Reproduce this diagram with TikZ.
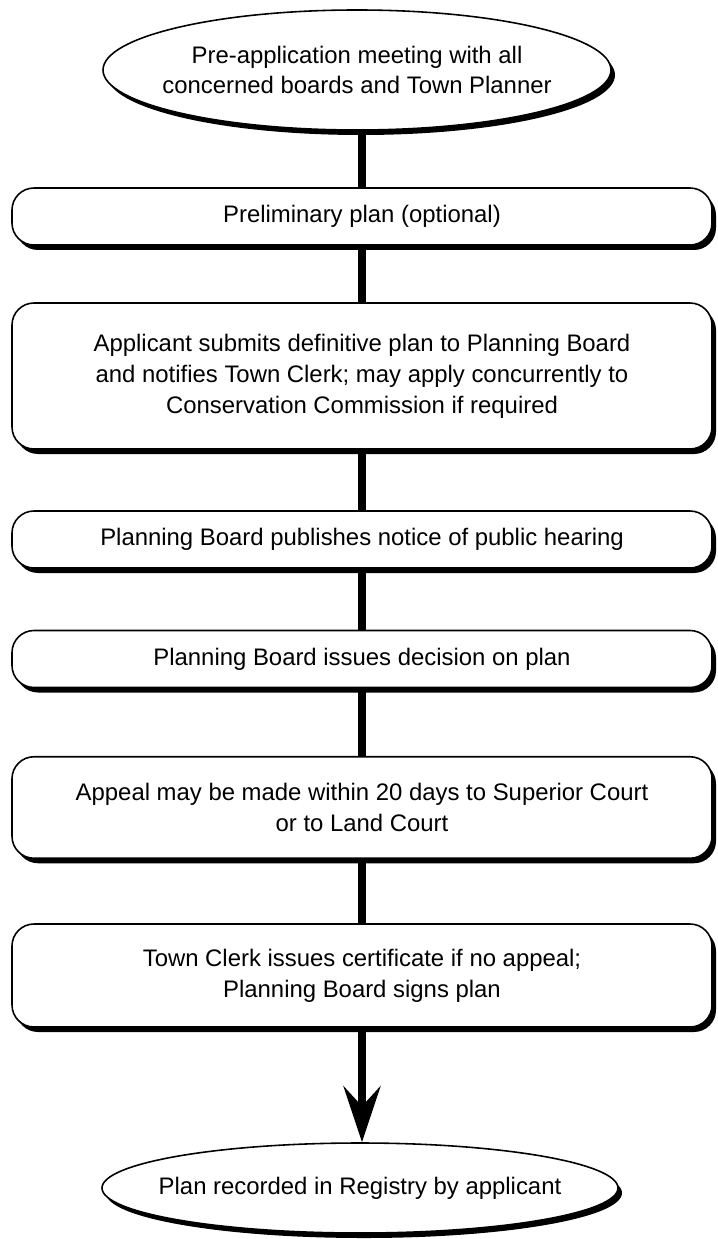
\documentclass[tikz,border=0pt]{standalone}
\usepackage{fontspec}
\setmainfont{Liberation Sans}
\usepackage{tikz}
\usetikzlibrary{arrows.meta,shapes.geometric,shadows}

\begin{document}
\begin{tikzpicture}[
		stagebox/.style={draw, line width=0.9pt, fill=white, rounded corners=0.44cm,
			minimum width=14cm, align=center,
			drop shadow={shadow xshift=0.08cm, shadow yshift=-0.1cm, fill=black, opacity=1}},
		endcap/.style={ellipse, draw, line width=0.9pt, fill=white, inner xsep=-0.6cm,
			align=center,
			drop shadow={shadow xshift=0.08cm, shadow yshift=-0.1cm, fill=black, opacity=1}},
		flow/.style={line width=4pt},
		font=\fontsize{13.6pt}{17.6pt}\selectfont
	]
		\path[use as bounding box] (0,0) rectangle (14.34,-24.78);
		\clip (0,0) rectangle (14.34,-24.78);
%		\draw[help lines] (0,-25) grid (15,0);
		\path (7.14,-1.40) coordinate (meeting_c);
		\path (7.24,-4.33) coordinate (prelim_c);
		\path (7.24,-7.52) coordinate (submit_c);
		\path (7.24,-10.79) coordinate (notice_c);
		\path (7.24,-13.18) coordinate (decision_c);
		\path (7.24,-16.15) coordinate (appeal_c);
		\path (7.24,-19.51) coordinate (certify_c);
		\path (7.20,-23.76) coordinate (record_c);

		\node[endcap, minimum width=10.16cm, minimum height=2.4cm] (meeting) at (meeting_c)
			{Pre-application meeting with all\\concerned boards and Town Planner};
		\node[stagebox, minimum height=1.14cm] (prelim) at (prelim_c)
			{Preliminary plan (optional)};
		\node[stagebox, minimum height=2.92cm] (submit) at (submit_c)
			{Applicant submits definitive plan to Planning Board\\and notifies Town Clerk; may apply concurrently to\\Conservation Commission if required};
		\node[stagebox, minimum height=1.14cm] (notice) at (notice_c)
			{Planning Board publishes notice of public hearing};
		\node[stagebox, minimum height=1.14cm] (decision) at (decision_c)
			{Planning Board issues decision on plan};
		\node[stagebox, minimum height=2.03cm] (appeal) at (appeal_c)
			{Appeal may be made within 20 days to Superior Court\\or to Land Court};
		\node[stagebox, minimum height=2.06cm] (certify) at (certify_c)
			{Town Clerk issues certificate if no appeal;\\Planning Board signs plan};
		\node[endcap, minimum width=10.32cm, minimum height=1.8cm] (record) at (record_c)
			{Plan recorded in Registry by applicant};

		% plain joins between the stages
		\draw[flow] (prelim.north) -- (prelim.north |- meeting.south);
		\draw[flow] (prelim.south) -- (submit.north);
		\draw[flow] (submit.south) -- (notice.north);
		\draw[flow] (notice.south) -- (decision.north);
		\draw[flow] (decision.south) -- (appeal.north);
		\draw[flow] (appeal.south) -- (certify.north);
		% last step ends in an arrow
		\draw[flow,-{Stealth[length=1.12cm,width=0.74cm,inset=0.4cm]}]
			(certify.south) -- (certify.south |- record.north);
	\end{tikzpicture}
\end{document}
